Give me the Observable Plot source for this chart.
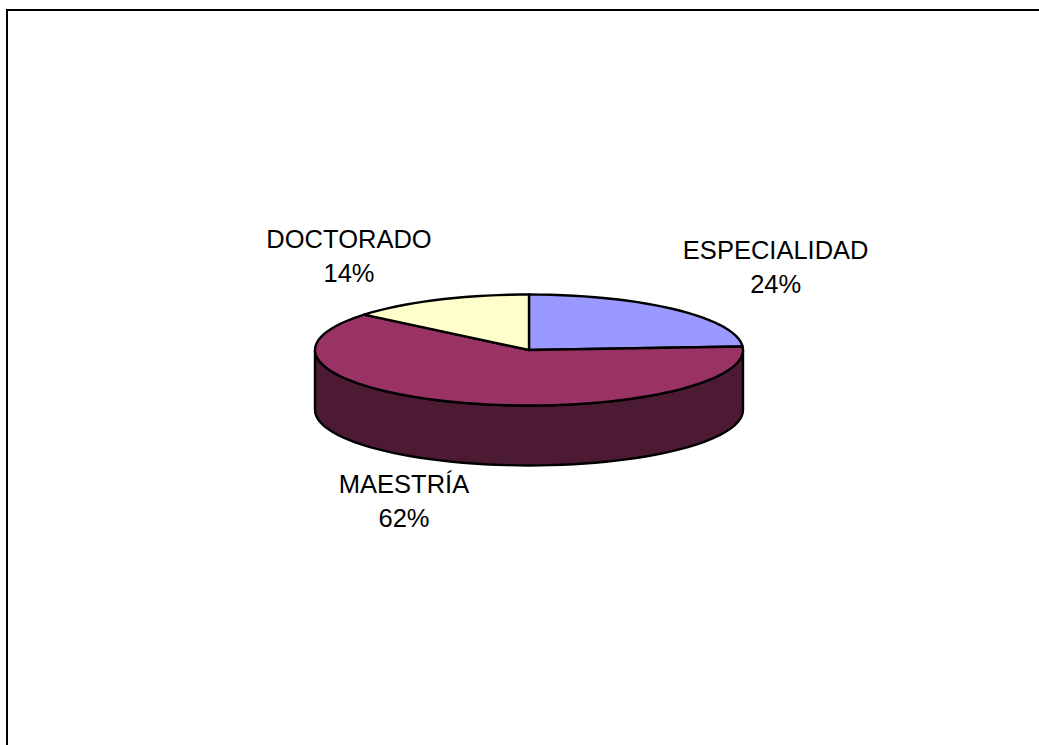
<!DOCTYPE html>
<html><head><meta charset="utf-8">
<script src="https://cdn.jsdelivr.net/npm/d3@7"></script>
<script src="https://cdn.jsdelivr.net/npm/@observablehq/plot@0.6"></script>
<style>
html,body{margin:0;padding:0;background:#fff;overflow:hidden}
#frame{position:absolute;left:6px;top:9px;width:1100px;height:800px;border-left:2px solid #000;border-top:2px solid #000}
#chart{position:absolute;left:0;top:0}
svg{display:block}
</style></head><body>
<div id="frame"></div><div id="chart"></div>
<script>
const categories = ["ESPECIALIDAD", "MAESTRÍA", "DOCTORADO"];
const shares = [24, 62, 14];
const colors = ["#9999ff", "#993366", "#ffffcc"];
const sideColor = "#4c1a33";
const depth = 1.08; // pie thickness, in units of the vertical radius
const steps = 3; // degrees per outline vertex

const rad = d => d * Math.PI / 180;
const px = a => Math.sin(rad(a));
const py = a => Math.cos(rad(a));

// slice outlines, clockwise from twelve o'clock
let startAngle = 0;
const slices = categories.map((name, i) => {
  const end = startAngle + shares[i] * 3.6;
  const pts = [{name, x: 0, y: 0}];
  for (let a = startAngle; a < end; a += steps) pts.push({name, x: px(a), y: py(a)});
  pts.push({name, x: px(end), y: py(end)});
  const s = {name, share: shares[i], mid: (startAngle + end) / 2, pts};
  startAngle = end;
  return s;
});

// visible wall: the front half of the rim, lowered by the thickness
const rimUpper = [], rimLower = [];
for (let a = 90; a <= 270; a += steps) {
  rimUpper.push({x: px(a), y: py(a)});
  rimLower.push({x: px(a), y: py(a) - depth});
}
const wall = [...rimUpper, ...rimLower.reverse()];

const labelMark = (i, dx, dy) => {
  const s = slices[i];
  const lower = py(s.mid) < 0 ? depth : 0;
  return Plot.text([s], {
    x: d => 1.8 * px(d.mid), y: d => 1.8 * py(d.mid) - lower,
    text: d => `${d.name}\n${d.share}%`,
    dx, dy, fontSize: 25.5, lineHeight: 1.33, fill: "#000",
    fontFamily: "Liberation Sans", textAnchor: "middle"
  });
};

const plot = Plot.plot({
  width: 1039, height: 745,
  margin: 0,
  x: {domain: [-1, 1], range: [314.5, 742.5], axis: null},
  y: {domain: [-1, 1], range: [405, 294], axis: null},
  style: {background: "transparent"},
  marks: [
    Plot.line(wall, {x: "x", y: "y", curve: "linear-closed", fill: sideColor, stroke: "#000", strokeWidth: 2.4}),
    ...slices.map((s, i) => Plot.line(s.pts, {
      x: "x", y: "y", curve: "linear-closed", fill: colors[i], stroke: "#000", strokeWidth: 2.4
    })),
    labelMark(0, -17, -12),
    labelMark(1, -6, -6),
    labelMark(2, -16, -5.5)
  ]
});
document.getElementById("chart").appendChild(plot);
</script>
</body></html>
